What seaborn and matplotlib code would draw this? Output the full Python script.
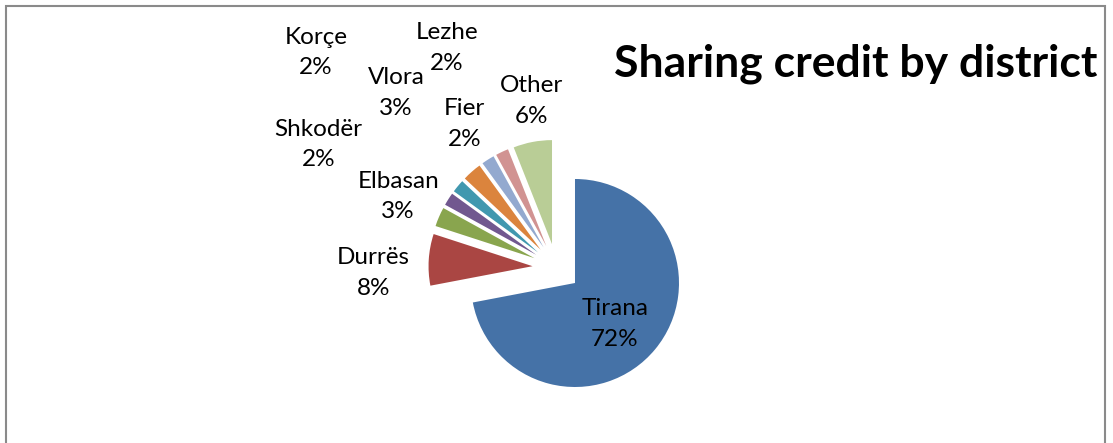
import numpy as np
import matplotlib
matplotlib.use("Agg")
import matplotlib.pyplot as plt
from matplotlib.patches import Rectangle
import seaborn as sns

# data (percent)
districts = ["Tirana", "Durrës", "Elbasan", "Shkodër", "Korçe", "Vlora", "Fier", "Lezhe", "Other"]
shares = [72, 8, 3, 2, 2, 3, 2, 2, 6]

# Excel 2007 default series colours
colors = ["#4572A7", "#AA4643", "#89A54E", "#71588F", "#4198AF",
          "#DB843D", "#93A9CF", "#D19392", "#B9CD96"]

# label placement (radius multiples from pie centre, clockwise angle nudge in degrees)
label_dist = [0.78, 1.76, 1.67, 2.58, 3.10, 2.28, 1.64, 2.36, 1.62]
label_nudge = [4.3, -5.3, 0.9, -5.0, 2.2, -1.2, -0.1, -1.3, 2.4]

sns.set_theme(style="white")
plt.rcParams["font.family"] = ["Lato", "DejaVu Sans"]

W, H = 1113, 443
fig = plt.figure(figsize=(W / 100, H / 100), dpi=100)
ax = fig.add_axes([0, 0, 1, 1])

cx, cy, r = 556.5, H - 267.7, 104
# explode is in data units here (pixels)
wedges, _ = ax.pie(shares, colors=colors, startangle=90, counterclock=False,
                   explode=[24] * len(shares), radius=r, center=(cx, cy),
                   wedgeprops=dict(linewidth=0))

for w, name, val, d, nud in zip(wedges, districts, shares, label_dist, label_nudge):
    mid = np.deg2rad((w.theta1 + w.theta2) / 2 - nud)
    ax.text(cx + d * r * np.cos(mid), cy + d * r * np.sin(mid), f"{name}\n{val}%",
            ha="center", va="center", fontsize=17.5, linespacing=1.55, color="black")

ax.text(856, H - 64, "Sharing credit by district", ha="center", va="center",
        fontsize=32, fontweight="bold", color="black")

# chart border
ax.add_patch(Rectangle((5.5, -10), 1099, H - 6 + 10, fill=False,
                       edgecolor="#8a8a8a", linewidth=1.5, clip_on=False))

ax.set_xlim(0, W)
ax.set_ylim(0, H)
ax.set_aspect("equal")
ax.set_axis_off()

fig.savefig("out.png", dpi=100)
